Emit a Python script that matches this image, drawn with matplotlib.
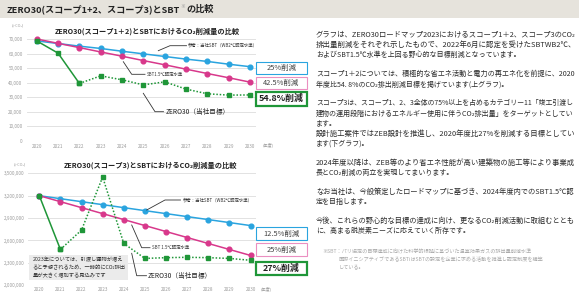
import matplotlib
matplotlib.use('Agg')
import matplotlib.pyplot as plt
from matplotlib.patches import Rectangle

plt.rcParams['font.family'] = ['Noto Sans CJK JP', 'DejaVu Sans']

W, H = 579, 295
BLUE = '#2aa4df'
PINK = '#d8388b'
GREEN = '#1f9638'
GRAY_TXT = '#9a9a9a'
DARK = '#333333'

years = list(range(2020, 2031))

# scope 1+2 (t-CO2)
s12_wb2 = [68700, 66900, 65100, 63500, 61600, 59800, 58000, 56200, 54600, 52700, 51000]
s12_sbt15 = [70000, 67000, 64100, 61100, 58200, 55200, 52300, 49300, 46300, 43400, 40400]
s12_zero30 = [68700, 60300, 39500, 44700, 42000, 38500, 40600, 35600, 32400, 31500, 31600]
s12_ticks = [0, 10000, 20000, 30000, 40000, 50000, 60000, 70000]

# scope 3 (t-CO2)
s3_wb2 = [3200000, 3160000, 3120000, 3080000, 3040000, 3000000, 2960000, 2920000, 2880000, 2840000, 2800000]
s3_sbt15 = [3200000, 3120000, 3040000, 2960000, 2880000, 2800000, 2720000, 2640000, 2560000, 2480000, 2400000]
s3_zero30 = [3200000, 2480000, 2740000, 3450000, 2560000, 2360000, 2370000, 2375000, 2370000, 2360000, 2335000]
s3_ticks = [2000000, 2300000, 2600000, 2900000, 3200000, 3500000]

s12_badges = ['25%削減', '42.5%削減', '54.8%削減']
s3_badges = ['12.5%削減', '25%削減', '27%削減']

body = [
    ['グラフは、ZERO30ロードマップ2023におけるスコープ1＋2、スコープ3のCO₂',
     '排出量削減をそれぞれ示したもので、2022年6月に認定を受けたSBTWB2℃、',
     'およびSBT1.5℃水準を上回る野心的な目標削減となっています。'],
    ['スコープ1＋2については、積極的な省エネ活動と電力の再エネ化を前提に、2020',
     '年度比54. 8%のCO₂排出削減目標を掲げています(上グラフ)。'],
    ['スコープ3は、スコープ1、2、3全体の75%以上を占めるカテゴリー11「竣工引渡し',
     '建物の運用段階におけるエネルギー使用に伴うCO₂排出量」をターゲットとしてい',
     'ます。',
     '設計施工案件ではZEB設計を推進し、2020年度比27%を削減する目標としてい',
     'ます(下グラフ)。'],
    ['2024年度以降は、ZEB等のより省エネ性能が高い建築物の施工等により事業成',
     '長とCO₂削減の両立を実現してまいります。'],
    ['なお当社は、今般策定したロードマップに基づき、2024年度内でのSBT1.5℃認',
     '定を目指します。'],
    ['今後、これらの野心的な目標の達成に向け、更なるCO₂削減活動に取組むととも',
     'に、高まる脱炭素ニーズに応えていく所存です。'],
]
# lines that end a sentence are not stretched to the full column width
short_lines = {'ます。', 'ます(下グラフ)。'}
footnote = ['※SBT：パリ協定の目標達成に向けた科学的根拠に基づいた温室効果ガスの排出量削減水準',
            '国際イニシアティブであるSBTiはSBTの設定を企業に求める活動を推進し認定制度を構築',
            'している。']

fig = plt.figure(figsize=(W / 100, H / 100), dpi=100)
fig.patch.set_facecolor('white')
renderer = fig.canvas.get_renderer()


def px_axes(l, t, r, b):
    return fig.add_axes([l / W, 1 - b / H, (r - l) / W, (b - t) / H])


def chart(ax, wb2, sbt, zero, ticks, xlim, ylim, solid_n, ypad, xpad):
    ax.plot(years, wb2, color=BLUE, lw=1.1, marker='o', ms=3.4, clip_on=False, zorder=3)
    ax.plot(years, sbt, color=PINK, lw=1.1, marker='o', ms=3.4, clip_on=False, zorder=3)
    ax.plot(years[:solid_n], zero[:solid_n], color=GREEN, lw=1.1, marker='s', ms=3.2,
            clip_on=False, zorder=4)
    ax.plot(years[solid_n - 1:], zero[solid_n - 1:], color=GREEN, lw=1.1, ls=(0, (1, 1.2)),
            marker='s', ms=3.2, clip_on=False, zorder=4)
    ax.set_xlim(xlim)
    ax.set_ylim(ylim)
    ax.set_yticks(ticks)
    ax.set_yticklabels([f'{t:,}' for t in ticks])
    ax.set_xticks(years)
    ax.tick_params(axis='y', length=0, labelsize=3.3, colors=GRAY_TXT, pad=ypad)
    ax.tick_params(axis='x', length=0, labelsize=3.3, colors=GRAY_TXT, pad=xpad)
    ax.grid(axis='y', color='#e2e2e2', lw=0.7)
    ax.set_axisbelow(True)
    for s in ax.spines.values():
        s.set_visible(False)


ax1 = px_axes(26.7, 39, 256, 141)
chart(ax1, s12_wb2, s12_sbt15, s12_zero30, s12_ticks, (2019.53, 2030.28), (0, 70000), 3, 2.9, 1.8)

ax2 = px_axes(28, 173.3, 256, 285.3)
chart(ax2, s3_wb2, s3_sbt15, s3_zero30, s3_ticks, (2019.465, 2030.26), (2000000, 3500000), 2, 2.2, 1.2)

# overlay for text, boxes, leaders
ov = fig.add_axes([0, 0, 1, 1], zorder=10)
ov.set_xlim(0, W)
ov.set_ylim(H, 0)
ov.axis('off')
ov.patch.set_visible(False)

# title bar
ov.add_patch(Rectangle((0, 0), W, 18, facecolor='#e6e3dc', edgecolor='none'))
ov.text(7, 9.5, 'ZERO30(スコープ1+2、スコープ3)とSBT', fontsize=6.6, fontweight='bold',
        color='#222222', va='center', ha='left')
ov.text(180.5, 7, '※', fontsize=3.5, color=GRAY_TXT, va='center', ha='left')
ov.text(186, 9.5, 'の比較', fontsize=6.6, fontweight='bold', color='#222222', va='center', ha='left')

# chart titles
ov.text(147.5, 31.5, 'ZERO30(スコープ1＋2)とSBTにおけるCO₂削減量の比較', fontsize=5.2,
        fontweight='bold', color='#222222', ha='center', va='center')
ov.text(151, 165, 'ZERO30(スコープ3)とSBTにおけるCO₂削減量の比較', fontsize=5.2,
        fontweight='bold', color='#222222', ha='center', va='center')

# unit labels
ov.text(17.5, 25.5, '(t-CO₂)', fontsize=2.8, color=GRAY_TXT, ha='center', va='center')
ov.text(20, 164, '(t-CO₂)', fontsize=2.8, color=GRAY_TXT, ha='center', va='center')
ov.text(263, 144.5, '(年度)', fontsize=3.0, color=GRAY_TXT, ha='left', va='center')
ov.text(261, 288.5, '(年度)', fontsize=3.0, color=GRAY_TXT, ha='left', va='center')

# leaders + labels, top chart
ov.plot([158.3, 170, 186.5], [50.7, 45.7, 45.7], color=DARK, lw=0.6)
ov.text(188, 45.5, '参考：当社SBT（WB2℃認定水準）', fontsize=3.2, color=DARK, va='center')
ov.plot([123.3, 131.7, 145], [61.7, 74.3, 74.3], color=DARK, lw=0.6)
ov.text(146.5, 74.3, 'SBT1.5℃認定水準', fontsize=3.2, color=DARK, va='center')
ov.plot([143.3, 155, 163.5], [93.3, 111.7, 111.7], color=DARK, lw=0.6)
ov.text(165.5, 111.7, 'ZERO30（当社目標）', fontsize=4.8, color='#222222', va='center')

# leaders + labels, bottom chart
ov.plot([146.7, 165, 180.5], [210, 200, 200], color=DARK, lw=0.6)
ov.text(182.5, 200, '参考：当社SBT（WB2℃認定水準）', fontsize=3.2, color=DARK, va='center')
ov.plot([131.7, 141.7, 150], [225, 247.7, 247.7], color=DARK, lw=0.6)
ov.text(151.5, 247.7, 'SBT 1.5℃認定水準', fontsize=3.2, color=DARK, va='center')
ov.plot([131.7, 136.7, 146.5], [253.3, 275.7, 275.7], color=DARK, lw=0.6)
ov.text(148, 275.7, 'ZERO30（当社目標）', fontsize=4.8, color='#222222', va='center')

# note box
ov.add_patch(Rectangle((29, 255), 99, 25, facecolor='#ebebeb', edgecolor='none', zorder=5))
for i, ln in enumerate(['2023年については、引渡し建物が増え',
                        'ると予想されるため、一時的にCO₂排出',
                        '量が大きく増加する見込みです']):
    ov.text(32.5, 259.7 + i * 8, ln, fontsize=3.8, color='#333333', va='center', zorder=6)


# badges
def badge(y0, y1, txt, edge, lw, fs, bold):
    ov.add_patch(Rectangle((256, y0), 51, y1 - y0, facecolor='white', edgecolor=edge,
                           lw=lw, zorder=7))
    ov.text(281.5, (y0 + y1) / 2, txt, fontsize=fs, ha='center', va='center', zorder=8,
            color='#222222' if bold else '#444444', fontweight='bold' if bold else 'normal')


badge(61.7, 74.3, s12_badges[0], BLUE, 0.8, 5.4, False)
badge(76.7, 89, s12_badges[1], '#eb8fc1', 0.8, 5.4, False)
badge(91.5, 106, s12_badges[2], GREEN, 1.6, 6.4, True)
badge(227, 240, s3_badges[0], BLUE, 0.8, 5.4, False)
badge(243, 256, s3_badges[1], '#eb8fc1', 0.8, 5.4, False)
badge(261.7, 275, s3_badges[2], GREEN, 1.6, 6.4, True)

# right column text: full lines fitted to the column width (316 -> 577)
col_w = 261
base_fs = 5.0
line_h = 10.1
par_gap = 9
n = 0
for p, para in enumerate(body):
    for k, ln in enumerate(para):
        t = ov.text(316, 35 + n * line_h + p * par_gap, ln, fontsize=base_fs, color='#2b2b2b',
                    ha='left', va='center')
        last = (k == len(para) - 1) or ln in short_lines
        if not last:
            w = t.get_window_extent(renderer).width
            fs = base_fs * col_w / w
            t.set_fontsize(min(max(fs, 4.7), 5.5))
        n += 1
for i, ln in enumerate(footnote):
    ov.text(322 if i == 0 else 339, 251.7 + i * 7.8, ln, fontsize=3.7, color='#aaaaaa',
            ha='left', va='center')

fig.savefig('out.png', dpi=100)
